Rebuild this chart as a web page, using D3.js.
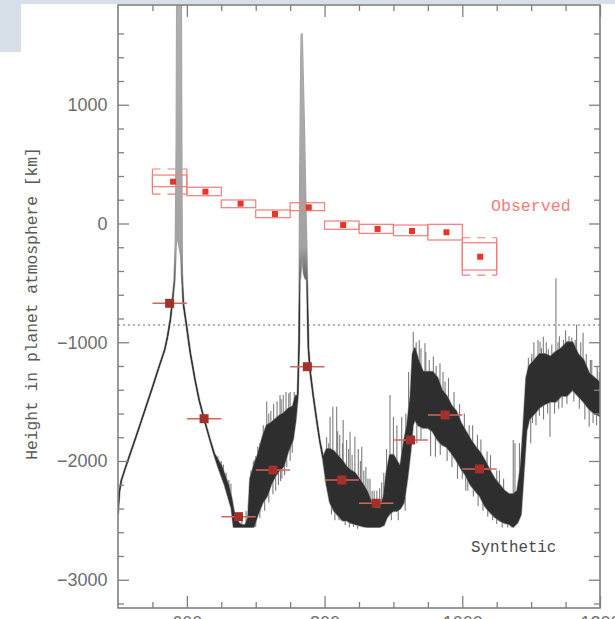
<!DOCTYPE html>
<html><head><meta charset="utf-8">
<script src="https://cdn.jsdelivr.net/npm/d3@7"></script>
<style>body{margin:0;background:#fff} svg{display:block}</style>
</head><body>
<svg id="chart" width="615" height="619"></svg>
<script>
// ---- axis ticks ----
const xMajorTicks = [600, 800, 1000, 1200];
const xMinorTicks = [550, 650, 700, 750, 850, 900, 950, 1050, 1100, 1150];
const yMajorTicks = [1000, 0, -1000, -2000, -3000];
const yMinorTicks = [1600, 1400, 1200, 800, 600, 400, 200, -200, -400, -600, -800,
  -1200, -1400, -1600, -1800, -2200, -2400, -2600, -2800, -3200];
const referenceHeight = -855;

// ---- observed transmission heights (km) per 50 nm bin ----
const obsWlStart = [550, 600, 650, 700, 750, 800, 850, 900, 950, 1000];
const obsWlEnd   = [600, 650, 700, 750, 800, 850, 900, 950, 1000, 1050];
const obsWl      = [580, 627, 678, 728, 777, 827, 877, 927, 977, 1026];
const obsValue   = [352, 268, 167, 80, 136, -13, -46, -63, -74, -280];
const obsHigh    = [408, 305, 198, 114, 175, 21, -7, -13, -7, -162];
const obsLow     = [310, 234, 133, 49, 108, -49, -83, -103, -139, -392];
const obsSysHigh = [459, null, null, null, null, null, null, null, null, -120];
const obsSysLow  = [248, null, null, null, null, null, null, null, null, -434];

// ---- synthetic spectrum binned to the same 50 nm bins ----
const synBinWl  = [575, 625, 675, 725, 775, 825, 875, 925, 975, 1025];
const synBinVal = [-672, -1644, -2469, -2076, -1206, -2160, -2356, -1823, -1613, -2067];
const synBinHalfWidth = 25;

// ---- synthetic spectrum: wavelength (nm), lower and upper envelope (km) ----
const specWl = [500,502,505,510,520,530,540,550,560,568,572,576,579,582,584,585.3,586,591.2,592,592.8,
  595,599,605,612,618,625,633,640,645,650,655,660,665,668,675,680,685,689,692,697,
  703,710,716,722,728,734,740,747,754,758,761,763,763.8,764.6,766.2,766.8,768,770,772,774.5,
  776.5,779,783.5,788.5,793,798,803,808,814,820,826,832,838,844,850,856,862,868,874,880,
  886,890,895,900,905,910,915,920,925,928,931,936,943,950,957,964,970,977,984,991,
  998,1005,1012,1019,1026,1033,1040,1047,1054,1061,1068,1074,1080,1085,1089,1093,1097,1105,1112,1120,
  1128,1136,1144,1152,1160,1168,1176,1184,1192,1200];
const specLow = [-2440,-2260,-2160,-2070,-1900,-1730,-1555,-1380,-1200,-1060,-950,-810,-660,-480,-150,-100,-100,-250,-300,-420,
  -680,-840,-1090,-1320,-1490,-1645,-1810,-1950,-2040,-2120,-2200,-2300,-2400,-2555,-2555,-2555,-2555,-2555,-2555,-2555,
  -2450,-2350,-2300,-2200,-2130,-2080,-2050,-1920,-1820,-1650,-1450,-1000,-476,-450,-300,-100,-300,-420,-460,-476,
  -1050,-1240,-1450,-1655,-1830,-1990,-2200,-2350,-2420,-2460,-2500,-2500,-2520,-2530,-2540,-2550,-2555,-2555,-2555,-2555,
  -2540,-2480,-2440,-2420,-2420,-2400,-2350,-2150,-1900,-1700,-1650,-1700,-1720,-1720,-1750,-1820,-1860,-1880,-1930,-1990,
  -2060,-2120,-2200,-2250,-2300,-2380,-2430,-2470,-2500,-2520,-2530,-2555,-2520,-2450,-2100,-1750,-1650,-1600,-1550,-1520,
  -1500,-1500,-1450,-1450,-1400,-1450,-1500,-1560,-1600,-1620];
const specHigh = [-2440,-2260,-2160,-2070,-1900,-1730,-1555,-1380,-1200,-1060,-950,-810,-660,-480,-150,700,1950,1950,500,-420,
  -680,-840,-1090,-1320,-1490,-1645,-1810,-1940,-1990,-2040,-2120,-2200,-2320,-2420,-2520,-2540,-2540,-2480,-2150,-2050,
  -1950,-1800,-1700,-1680,-1650,-1620,-1600,-1560,-1540,-1450,-1450,-1000,-476,400,1400,1593,1300,800,200,-476,
  -1050,-1240,-1450,-1655,-1830,-1970,-1900,-1900,-1920,-1960,-2000,-2050,-2080,-2100,-2150,-2200,-2260,-2350,-2400,-2400,
  -2300,-2100,-1950,-1950,-2000,-2050,-1850,-1700,-1450,-1100,-1050,-1150,-1250,-1250,-1250,-1300,-1400,-1450,-1530,-1580,
  -1680,-1750,-1820,-1880,-1930,-2000,-2080,-2150,-2200,-2250,-2280,-2280,-2250,-2050,-1700,-1300,-1200,-1150,-1100,-1100,
  -1120,-1080,-1050,-1000,-1000,-1100,-1150,-1260,-1300,-1340];

// ---- individual spectral spikes: wavelength, base and tip (km) ----
const spikeWl = [645,650,653,657,661,664,680,686,693,696.5,700,703,708.6,711,716,722,726,731,735.3,740,744,748,752,756,
  700,713,719,725,733,738,745,750,706,729,736,742,753,698,706,719,737,750,
  803,808,812,817.6,822,827,832,837,844,849,854,860,866,872,880,886,890,815,830,842,
  806,819,826,835,840,852,857,863,869,876,883,810,821,836,848,
  895,900,905,912,918,922,897,907,917,
  928.8,933,937.5,940,945.8,952,958,967.6,972,980,934,954,961,985,993,
  947,962,975,988,996,1003,1015,1027,1041,1054,940,968,978,1000,1008,1023,1037,1050,
  1005,1010,1022,1036,1050,1060,1074,1076.5,1083,1016,1030,1044,1058,1066,1071,
  1096,1099.4,1100.7,1104,1110,1113,1117.7,1122,1127.4,1130,1136,1141,1147,1150,1156.4,1166,1172,1175.4,1180,1184.3,1188,1196,
  1107,1118,1134,1145,1162,1178,1195,
  1101,1115,1125,1139,1155,1159,1164,1186,1199,1102,1112,1124,1140,1152,1170,1190];
const spikeBase = [-2000,-2080,-2150,-2150,-2250,-2350,-2540,-2540,-2400,-2300,-2200,-2100,-2100,-2000,-1900,-1900,-1800,-1750,-1800,-1800,-1700,-1650,-1650,-1600,
  -2300,-2200,-2100,-2000,-1950,-1900,-1850,-1800,-2300,-2050,-2000,-1950,-1750,-2150,-2000,-1800,-1700,-1600,
  -2050,-2000,-2000,-2000,-2100,-2100,-2150,-2200,-2200,-2200,-2300,-2300,-2400,-2450,-2450,-2400,-2300,-2200,-2250,-2300,
  -2100,-2050,-2100,-2150,-2200,-2250,-2300,-2350,-2450,-2450,-2400,-2250,-2300,-2400,-2400,
  -2100,-2100,-2200,-2200,-2000,-1800,-2200,-2200,-2100,
  -1300,-1400,-1300,-1450,-1400,-1500,-1500,-1500,-1600,-1650,-1400,-1500,-1550,-1700,-1800,
  -1400,-1500,-1600,-1700,-1800,-1850,-1950,-2050,-2200,-2300,-1500,-1650,-1700,-1900,-1950,-2100,-2200,-2300,
  -1900,-1950,-2050,-2200,-2300,-2350,-2400,-2400,-2350,-2000,-2150,-2250,-2350,-2400,-2400,
  -1400,-1400,-1400,-1350,-1300,-1300,-1300,-1300,-1300,-1300,-1300,-1250,-1250,-1200,-1200,-1200,-1300,-1250,-1400,-1400,-1450,-1500,
  -1400,-1350,-1300,-1300,-1250,-1400,-1450,
  -1400,-1350,-1300,-1300,-1200,-1200,-1250,-1400,-1450,-1400,-1350,-1350,-1300,-1250,-1300,-1450];
const spikeTip = [-1960,-2000,-2030,-2100,-2160,-2190,-2440,-2420,-2080,-2005,-1960,-1880,-1823,-1700,-1500,-1580,-1520,-1500,-1444,-1444,-1420,-1430,-1543,-1420,
  -2555,-2420,-2350,-2280,-2200,-2150,-2050,-2000,-2480,-2250,-2170,-2120,-1930,-1990,-1850,-1600,-1480,-1420,
  -1800,-1627,-1543,-1543,-1780,-1655,-1823,-1753,-1795,-1900,-1880,-2050,-2150,-2250,-2230,-2100,-1900,-2500,-2540,-2555,
  -1850,-1750,-1850,-1900,-1950,-2000,-2080,-2150,-2250,-2250,-2180,-2450,-2500,-2560,-2570,
  -1444,-1627,-1700,-1627,-1600,-1250,-2500,-2500,-2420,
  -911,-1000,-981,-1050,-1009,-1150,-1120,-1177,-1250,-1300,-1850,-1960,-1964,-2050,-2150,
  -1080,-1200,-1330,-1420,-1520,-1600,-1700,-1820,-1950,-2080,-1820,-1950,-2000,-2150,-2250,-2380,-2470,-2530,
  -2250,-1700,-1780,-1920,-2080,-2150,-1823,-1851,-1850,-2300,-2420,-2500,-2560,-2560,-2560,
  -1130,-1851,-1133,-1000,-981,-995,-953,-1000,-1795,-1020,-461,-950,-980,-900,-1065,-850,-1000,-920,-1100,-1711,-1150,-1200,
  -1700,-1650,-1600,-1550,-1500,-1650,-1700,
  -1100,-1050,-1060,-1000,-950,-960,-980,-1150,-1250,-1680,-1620,-1600,-1560,-1520,-1560,-1680];

// ---- layout ----
const svg = d3.select("#chart");
const W = 615, H = 619;
const box = {left: 118, right: 600, top: 5, bottom: 608};
const x = d3.scaleLinear().domain([500, 1200]).range([box.left, box.right]);
const y = d3.scaleLinear().domain([-3238, 1840]).range([box.bottom, box.top]);

// page band around the figure
svg.append("rect").attr("x", 0).attr("y", 0).attr("width", W).attr("height", 4).attr("fill", "#d7dfe8");
svg.append("rect").attr("x", 0).attr("y", 0).attr("width", 21).attr("height", 52).attr("fill", "#d7dfe8");

const defs = svg.append("defs");
defs.append("clipPath").attr("id", "plotClip")
  .append("rect").attr("x", box.left).attr("y", box.top)
  .attr("width", box.right - box.left).attr("height", box.bottom - box.top);

// line cores of the strong absorption lines render lighter than the continuum
const gTop = y(1840), gBottom = y(-700);
const grad = defs.append("linearGradient").attr("id", "specShade")
  .attr("gradientUnits", "userSpaceOnUse")
  .attr("x1", 0).attr("x2", 0).attr("y1", gTop).attr("y2", gBottom);
grad.append("stop").attr("offset", 0).attr("stop-color", "#b0b0b0");
grad.append("stop").attr("offset", (y(-200) - gTop) / (gBottom - gTop)).attr("stop-color", "#a2a2a2");
grad.append("stop").attr("offset", 1).attr("stop-color", "#2e2e2e");

const plot = svg.append("g").attr("clip-path", "url(#plotClip)");

// dotted reference height
plot.append("line")
  .attr("x1", box.left).attr("x2", box.right)
  .attr("y1", y(referenceHeight)).attr("y2", y(referenceHeight))
  .attr("stroke", "#9a9a9a").attr("stroke-width", 1.3).attr("stroke-dasharray", "2,3");

// synthetic spectrum
const spec = specWl.map((w, i) => ({w, lo: specLow[i], hi: specHigh[i]}));
const area = d3.area().x((d) => x(d.w)).y0((d) => y(d.lo)).y1((d) => y(d.hi));
plot.append("path").datum(spec).attr("d", area)
  .attr("fill", "#8e8e8e").attr("stroke", "#a4a4a4").attr("stroke-width", 2.4).attr("stroke-linejoin", "round");
plot.append("g").selectAll("line").data(spikeWl).join("line")
  .attr("x1", (d) => x(d)).attr("x2", (d) => x(d))
  .attr("y1", (d, i) => y(spikeBase[i])).attr("y2", (d, i) => y(spikeTip[i]))
  .attr("stroke", "#7c7c7c").attr("stroke-width", 1.1);
plot.append("path").datum(spec).attr("d", area)
  .attr("fill", "url(#specShade)").attr("stroke", "url(#specShade)").attr("stroke-width", 1).attr("stroke-linejoin", "round");

// observed boxes
const obsColor = "#f27c7a";
const obs = obsWl.map((w, i) => ({w, v: obsValue[i], w0: obsWlStart[i], w1: obsWlEnd[i],
  hi: obsHigh[i], lo: obsLow[i], sHi: obsSysHigh[i], sLo: obsSysLow[i]}));
const og = plot.append("g").attr("fill", "none").attr("stroke", obsColor).attr("stroke-width", 1.2);
og.selectAll("rect").data(obs).join("rect")
  .attr("x", (d) => x(d.w0)).attr("width", (d) => x(d.w1) - x(d.w0))
  .attr("y", (d) => y(d.hi)).attr("height", (d) => y(d.lo) - y(d.hi));
obs.filter((d) => d.sHi !== null).forEach((d) => {
  [d.sHi, d.sLo].forEach((v) => {
    og.append("line").attr("x1", x(d.w0)).attr("x2", x(d.w1))
      .attr("y1", y(v)).attr("y2", y(v)).attr("stroke-dasharray", "8,7");
  });
  [d.w0, d.w1].forEach((w) => {
    og.append("line").attr("x1", x(w)).attr("x2", x(w))
      .attr("y1", y(d.sHi)).attr("y2", y(d.sLo));
  });
});
plot.append("g").selectAll("rect").data(obs).join("rect")
  .attr("x", (d) => x(d.w) - 3).attr("y", (d) => y(d.v) - 3)
  .attr("width", 6).attr("height", 6).attr("fill", "#e8352c");

// synthetic binned points
const syn = synBinWl.map((w, i) => ({w, v: synBinVal[i]}));
plot.append("g").selectAll("line").data(syn).join("line")
  .attr("x1", (d) => x(d.w - synBinHalfWidth)).attr("x2", (d) => x(d.w + synBinHalfWidth))
  .attr("y1", (d) => y(d.v)).attr("y2", (d) => y(d.v))
  .attr("stroke", "#d8655c").attr("stroke-width", 1.5);
plot.append("g").selectAll("rect").data(syn).join("rect")
  .attr("x", (d) => x(d.w) - 4.5).attr("y", (d) => y(d.v) - 4.5)
  .attr("width", 9).attr("height", 9).attr("fill", "#a3302a");

// axes
const axisColor = "#808080";
function styleAxis(g) {
  g.select(".domain").remove();
  g.selectAll(".tick line").attr("stroke", axisColor).attr("stroke-width", 1.3);
  g.selectAll(".tick text").attr("fill", "#6e6e6e")
    .style("font-family", "'Liberation Sans', Arial, sans-serif").style("font-size", "18px");
}
const fmt = (d) => (d < 0 ? "\u2212" + Math.abs(d) : String(d));

svg.append("g").attr("transform", `translate(${box.left},0)`)
  .call(d3.axisLeft(y).tickValues(yMajorTicks).tickSizeInner(-11).tickSizeOuter(0).tickPadding(10.5).tickFormat(fmt))
  .call(styleAxis);
svg.append("g").attr("transform", `translate(${box.left},0)`)
  .call(d3.axisLeft(y).tickValues(yMinorTicks).tickSizeInner(-6).tickSizeOuter(0).tickFormat(""))
  .call(styleAxis);
svg.append("g").attr("transform", `translate(${box.right},0)`)
  .call(d3.axisRight(y).tickValues(yMajorTicks).tickSizeInner(-11).tickSizeOuter(0).tickFormat(""))
  .call(styleAxis);
svg.append("g").attr("transform", `translate(${box.right},0)`)
  .call(d3.axisRight(y).tickValues(yMinorTicks).tickSizeInner(-6).tickSizeOuter(0).tickFormat(""))
  .call(styleAxis);
svg.append("g").attr("transform", `translate(0,${box.bottom})`)
  .call(d3.axisBottom(x).tickValues(xMajorTicks).tickSizeInner(-12).tickSizeOuter(0).tickPadding(8).tickFormat(d3.format("d")))
  .call(styleAxis);
svg.append("g").attr("transform", `translate(0,${box.bottom})`)
  .call(d3.axisBottom(x).tickValues(xMinorTicks).tickSizeInner(-6).tickSizeOuter(0).tickFormat(""))
  .call(styleAxis);
svg.append("g").attr("transform", `translate(0,${box.top})`)
  .call(d3.axisTop(x).tickValues(xMajorTicks).tickSizeInner(-12).tickSizeOuter(0).tickFormat(""))
  .call(styleAxis);
svg.append("g").attr("transform", `translate(0,${box.top})`)
  .call(d3.axisTop(x).tickValues(xMinorTicks).tickSizeInner(-6).tickSizeOuter(0).tickFormat(""))
  .call(styleAxis);

// frame
svg.append("rect").attr("x", box.left).attr("y", box.top)
  .attr("width", box.right - box.left).attr("height", box.bottom - box.top)
  .attr("fill", "none").attr("stroke", axisColor).attr("stroke-width", 1.6);

// labels
const mono = "'Liberation Mono', 'DejaVu Sans Mono', monospace";
svg.append("text")
  .attr("transform", `translate(37,${(147 + 460) / 2}) rotate(-90)`)
  .attr("text-anchor", "middle")
  .style("font-family", mono).style("font-size", "16.3px").attr("fill", "#5a5a5a")
  .text("Height in planet atmosphere [km]");
svg.append("text").attr("x", 491).attr("y", 211)
  .style("font-family", mono).style("font-size", "16.6px").attr("fill", "#f27c7a")
  .text("Observed");
svg.append("text").attr("x", 471).attr("y", 552)
  .style("font-family", mono).style("font-size", "15.8px").attr("fill", "#4a4a4a")
  .text("Synthetic");
</script>
</body></html>
